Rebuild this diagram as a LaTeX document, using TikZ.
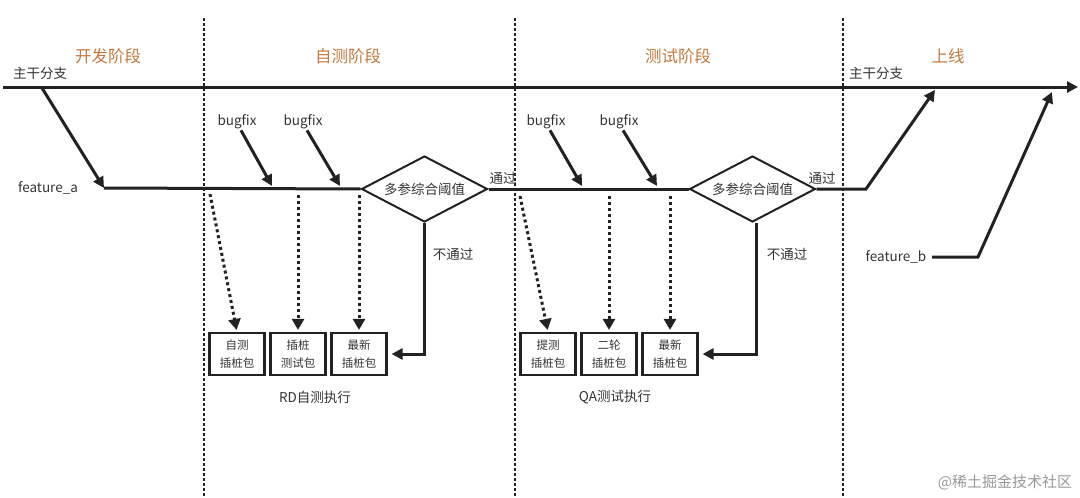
\documentclass[tikz,border=0pt]{standalone}
\usepackage{fontspec}
\setmainfont{Noto Sans CJK SC}
\usetikzlibrary{arrows.meta, positioning, shapes.geometric}
\definecolor{phaseorange}{HTML}{C27840}
\definecolor{inkdark}{HTML}{222222}
\definecolor{inktext}{HTML}{333333}

\begin{document}
\begin{tikzpicture}[
        x=1pt, y=-1pt,
        phase/.style={text=phaseorange, font=\fontsize{16.5}{18}\selectfont},
        lbl/.style={text=inktext, font=\fontsize{13.5}{15}\selectfont, inner sep=1pt},
        pkg/.style={rectangle, draw=inkdark, line width=2.2pt, minimum width=55pt, minimum height=42pt, align=center, inner sep=1pt, text=inktext, font=\fontsize{11.5}{18}\selectfont},
        gate/.style={diamond, draw=inkdark, line width=2pt, aspect=1.9, minimum width=126pt, minimum height=66pt, inner sep=0pt, text=inktext, font=\fontsize{13.5}{15}\selectfont},
        flow/.style={draw=inkdark, line width=3pt},
        arrow/.style={flow, -{Triangle[length=11pt, width=11pt]}},
        dotarrow/.style={draw=inkdark, line width=3pt, dash pattern=on 3pt off 3pt, -{Triangle[length=11pt, width=12pt]}},
        stageline/.style={draw=inkdark, line width=2.2pt, dash pattern=on 3pt off 2pt}
    ]
        \useasboundingbox (0,0) rectangle (1080,498);

        % stage borders and titles
        \foreach \sx/\sname in {204/devend, 515/rdend, 843/qaend}
            \draw[stageline] (\sx,18) coordinate (\sname-top) -- (\sx,496) coordinate (\sname-bot);
        \node[phase] (devtitle) at (108,56) {开发阶段};
        \node[phase] (rdtitle) at (348,56) {自测阶段};
        \node[phase] (qatitle) at (678,56) {测试阶段};
        \node[phase] (ontitle) at (948,56) {上线};

        % trunk
        \coordinate (trunkL) at (3,87);
        \coordinate (trunkR) at (1078,87);
        \draw[arrow] (trunkL) -- (trunkR);
        \node[lbl] (trunk1) at (40,73) {主干分支};
        \node[lbl] (trunk2) at (876,73) {主干分支};

        % feature_a branch
        \coordinate (forkA) at (42,88);
        \coordinate (startA) at (104,188);
        \node[lbl] (fa) at (48,188) {feature\_a};
        \node[gate] (gate1) at (424.5,189) {多参综合阈值};
        \node[gate] (gate2) at (752.5,189) {多参综合阈值};
        \draw[arrow] (forkA) -- (startA);
        \draw[flow] (startA) -- (gate1.west);
        \draw[flow] (gate1.east) -- (gate2.west);
        \node[lbl] (pass1) at (503,178) {通过};
        \node[lbl] (pass2) at (822,178) {通过};
        \node[lbl] (fail1) at (453,254) {不通过};
        \node[lbl] (fail2) at (787,254) {不通过};

        % merge into trunk
        \coordinate (bendA) at (866,189);
        \coordinate (mergeA) at (935,90);
        \draw[arrow] (gate2.east) -- (bendA) -- (mergeA);
        \node[lbl] (fb) at (896,257) {feature\_b};
        \coordinate (startB) at (932,257);
        \coordinate (bendB) at (978,257);
        \coordinate (mergeB) at (1052,92);
        \draw[arrow] (startB) -- (bendB) -- (mergeB);

        % bugfix commits
        \foreach \bx/\tx/\bname in {237/272/fix1, 303/340/fix2, 546/582/fix3, 619/657/fix4} {
            \node[lbl] (\bname) at (\bx,122) {bugfix};
            \draw[arrow] ([xshift=4pt]\bname.south) -- (\tx,186);
        }

        % instrumented packages
        \node[pkg] (rd1) at (237,354) {自测\\插桩包};
        \node[pkg] (rd2) at (298,354) {插桩\\测试包};
        \node[pkg] (rd3) at (359,354) {最新\\插桩包};
        \node[pkg] (qa1) at (548,354) {提测\\插桩包};
        \node[pkg] (qa2) at (609,354) {二轮\\插桩包};
        \node[pkg] (qa3) at (670,354) {最新\\插桩包};
        \node[lbl] (rdrun) at (315,397) {RD自测执行};
        \node[lbl] (qarun) at (615,397) {QA测试执行};

        \draw[dotarrow, shorten >=2pt] (210,194) -- (rd1.north);
        \draw[dotarrow, shorten >=2pt] (rd2.north |- 0,195) -- (rd2.north);
        \draw[dotarrow, shorten >=2pt] (rd3.north |- 0,195) -- (rd3.north);
        \draw[dotarrow, shorten >=2pt] (520,196) -- (qa1.north);
        \draw[dotarrow, shorten >=2pt] (qa2.north |- 0,196) -- (qa2.north);
        \draw[dotarrow, shorten >=2pt] (qa3.north |- 0,196) -- (qa3.north);

        % rejected gates go back to packages
        \draw[arrow, shorten >=4pt] (gate1.south) |- (rd3.east);
        \draw[arrow, shorten >=4pt] ([xshift=4pt]gate2.south) |- (qa3.east);

        \node[text=black!40, font=\fontsize{15}{17}\selectfont] (mark) at (1005,482) {@稀土掘金技术社区};
    \end{tikzpicture}
\end{document}
